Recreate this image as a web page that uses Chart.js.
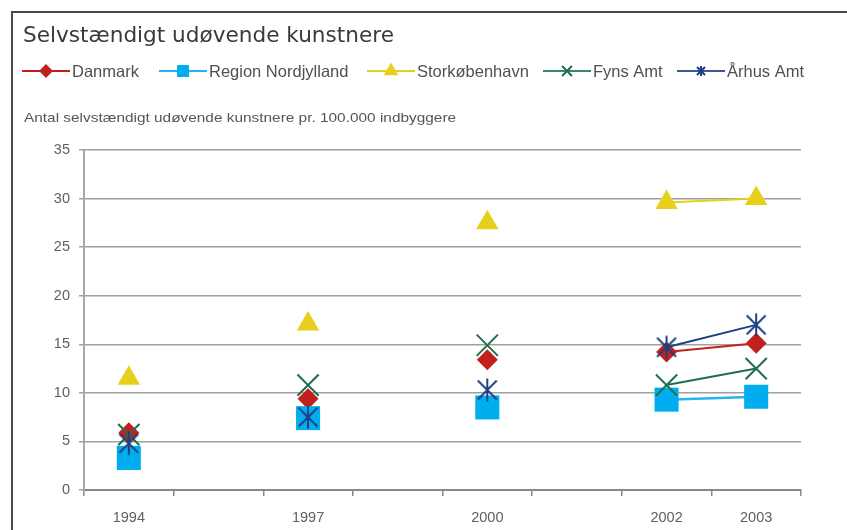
<!DOCTYPE html>
<html>
<head>
<meta charset="utf-8">
<script src="https://cdn.jsdelivr.net/npm/chart.js@4/dist/chart.umd.min.js"></script>
<style>
body { margin: 0; background: #fff; overflow: hidden; }
#wrap { position: relative; width: 847px; height: 530px; overflow: hidden; }
#frame { position: absolute; left: 11px; top: 11px; width: 900px; height: 600px; border: 2px solid #4a4a4a; }
canvas { position: absolute; left: 0; top: 0; }
</style>
</head>
<body>
<div id="wrap">
  <div id="frame"></div>
  <canvas id="chart" width="847" height="530"></canvas>
</div>
<script>
// years on the x axis (blank slots keep the spacing and break the lines)
const years = ['1994', '', '1997', '', '2000', '', '2002', '2003'];
const yTicks = [0, 5, 10, 15, 20, 25, 30, 35];

const danmark     = [5.9, null, 9.4, null, 13.4, null, 14.2, 15.1];
const nordjylland = [3.3, null, 7.4, null, 8.5, null, 9.3, 9.6];
const storkbh     = [11.5, null, 17.1, null, 27.5, null, 29.6, 30.0];
const fyn         = [5.7, null, 10.8, null, 14.9, null, 10.8, 12.5];
const aarhus      = [4.8, null, 7.5, null, 10.3, null, 14.7, 17.0];

const title = 'Selvstændigt udøvende kunstnere';
const subtitle = 'Antal selvstændigt udøvende kunstnere pr. 100.000 indbyggere';

// asterisk marker: an X with a vertical stroke
function makeAsterisk(size, half, vert, color, lw) {
    const c = document.createElement('canvas');
    c.width = c.height = size;
    const g = c.getContext('2d');
    const m = size / 2;
    g.strokeStyle = color;
    g.lineWidth = lw;
    g.beginPath();
    g.moveTo(m - half, m - half); g.lineTo(m + half, m + half);
    g.moveTo(m + half, m - half); g.lineTo(m - half, m + half);
    g.moveTo(m, m - vert); g.lineTo(m, m + vert);
    g.stroke();
    return c;
}

const aarhusColor = '#1f3f80';
const bigStar = makeAsterisk(28, 9.5, 11.5, aarhusColor, 2);
const smallStar = makeAsterisk(14, 4, 5, aarhusColor, 2);

const legendX = [22, 159, 367, 543, 677];

const textPlugin = {
    id: 'texts',
    afterDraw(chart) {
        const ctx = chart.ctx;
        ctx.save();
        ctx.fillStyle = '#3a3a3a';
        ctx.font = '21.6px "DejaVu Sans"';
        ctx.textBaseline = 'alphabetic';
        ctx.fillText(title, 23, 42);

        // subtitle is a wide, small face in the original: stretch it a little
        ctx.save();
        ctx.translate(24, 122);
        ctx.scale(1.14, 1);
        ctx.font = '13.5px "Liberation Sans"';
        ctx.fillStyle = '#555';
        ctx.fillText(subtitle, 0, 0);
        ctx.restore();

        // legend: line through a marker, then the label
        const y = 71;
        chart.data.datasets.forEach((ds, i) => {
            const x = legendX[i];
            ctx.strokeStyle = ds.legendLine;
            ctx.lineWidth = 2;
            ctx.beginPath();
            ctx.moveTo(x, y);
            ctx.lineTo(x + 48, y);
            ctx.stroke();
            ctx.fillStyle = ds.pointBackgroundColor;
            ctx.strokeStyle = ds.pointBorderColor;
            Chart.helpers.drawPoint(ctx, {
                pointStyle: ds.legendStyle,
                radius: ds.legendRadius,
                rotation: 0,
                borderWidth: 2
            }, x + 24, y);
            ctx.fillStyle = '#505050';
            ctx.font = '16.5px "Liberation Sans"';
            ctx.fillText(ds.label, x + 50, 77);
        });
        ctx.restore();
    }
};

new Chart(document.getElementById('chart'), {
    type: 'line',
    data: {
        labels: years,
        datasets: [
            {
                label: 'Danmark', data: danmark, order: 5,
                borderColor: '#c0211f', legendLine: '#c0211f', borderWidth: 2,
                pointStyle: 'rectRot', pointRadius: 10.5, pointBorderWidth: 0,
                pointBackgroundColor: '#c0211f', pointBorderColor: '#c0211f',
                legendStyle: 'rectRot', legendRadius: 5.5
            },
            {
                label: 'Region Nordjylland', data: nordjylland, order: 4,
                borderColor: '#22b4ee', legendLine: '#22b4ee', borderWidth: 2.5,
                pointStyle: 'rect', pointRadius: 17, pointBorderWidth: 0,
                pointBackgroundColor: '#00aeef', pointBorderColor: '#00aeef',
                legendStyle: 'rect', legendRadius: 7
            },
            {
                label: 'Storkøbenhavn', data: storkbh, order: 3,
                borderColor: '#e6d01c', legendLine: '#e6d01c', borderWidth: 2,
                pointStyle: 'triangle', pointRadius: 13, pointBorderWidth: 0,
                pointBackgroundColor: '#e6d01c', pointBorderColor: '#e6d01c',
                legendStyle: 'triangle', legendRadius: 6.5
            },
            {
                label: 'Fyns Amt', data: fyn, order: 2,
                borderColor: '#1f6e4e', legendLine: '#3a8868', borderWidth: 2,
                pointStyle: 'crossRot', pointRadius: 15, pointBorderWidth: 2,
                pointBackgroundColor: '#1f6e4e', pointBorderColor: '#1f6e4e',
                legendStyle: 'crossRot', legendRadius: 7
            },
            {
                label: 'Århus Amt', data: aarhus, order: 1,
                borderColor: aarhusColor, legendLine: '#3a5a95', borderWidth: 2,
                pointStyle: bigStar, pointRadius: 12, pointBorderWidth: 2,
                pointBackgroundColor: aarhusColor, pointBorderColor: aarhusColor,
                legendStyle: smallStar, legendRadius: 6
            }
        ]
    },
    options: {
        responsive: false,
        animation: false,
        layout: { padding: { top: 150, right: 46, left: 0, bottom: 0 } },
        plugins: {
            legend: { display: false },
            tooltip: { enabled: false }
        },
        scales: {
            x: {
                offset: true,
                grid: {
                    offset: true,
                    drawOnChartArea: false,
                    drawTicks: true,
                    tickLength: 6,
                    color: '#888',
                    lineWidth: 1.5
                },
                border: { color: '#888', width: 2 },
                ticks: {
                    color: '#606060',
                    font: { family: 'Liberation Sans', size: 14.5 },
                    padding: 13,
                    maxRotation: 0,
                    autoSkip: false
                },
                afterFit(scale) { scale.height = 40; }
            },
            y: {
                min: 0,
                max: 35,
                afterBuildTicks(scale) { scale.ticks = yTicks.map(v => ({ value: v })); },
                grid: {
                    color: '#a0a0a0',
                    lineWidth: 1.5,
                    tickLength: 5
                },
                border: { color: '#a8a8a8', width: 2 },
                ticks: {
                    color: '#606060',
                    font: { family: 'Liberation Sans', size: 14.5 },
                    padding: 9
                },
                afterFit(scale) { scale.width = 84; }
            }
        }
    },
    plugins: [textPlugin]
});
</script>
</body>
</html>
